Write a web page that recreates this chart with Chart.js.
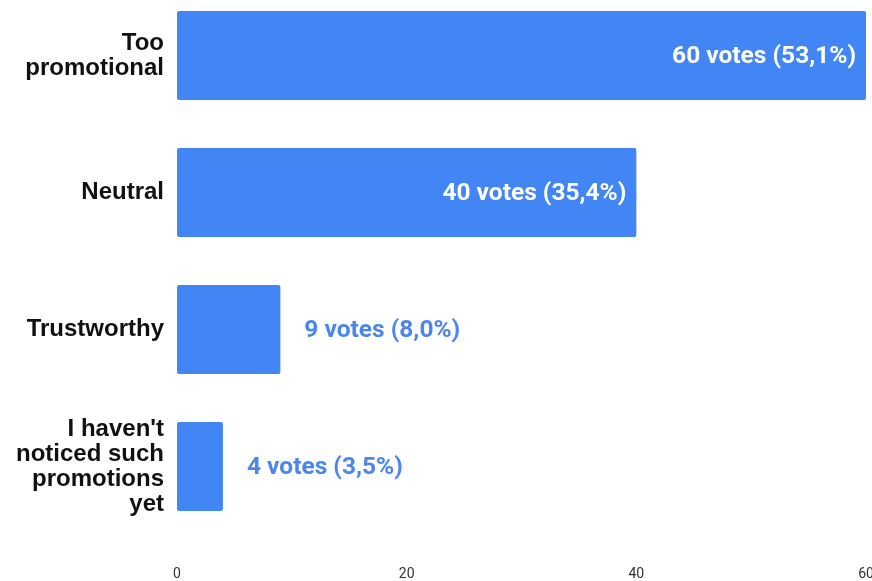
<!DOCTYPE html>
<html>
<head>
<meta charset="utf-8">
<script src="https://cdn.jsdelivr.net/npm/chart.js@4"></script>
<style>
  html, body { margin: 0; padding: 0; background: #fff; overflow: hidden; width: 872px; height: 581px; }
  #wrap { position: absolute; left: 0; top: -13px; width: 880px; height: 594px; }
</style>
</head>
<body>
<div id="wrap"><canvas id="chart"></canvas></div>
<script>
var categories = [
	['Too', 'promotional'],
	['Neutral'],
	['Trustworthy'],
	["I haven't", 'noticed such', 'promotions', 'yet']
];
var votes = [60, 40, 9, 4];
var xTicks = [0, 20, 40, 60];

var total = votes.reduce(function(a, b){ return a + b; }, 0);
var barBlue = '#4285F4';

// labels "60 votes (53,1%)" inside or beside each bar
var voteLabels = {
	id: 'voteLabels',
	afterDatasetsDraw: function(chart){
		var ctx = chart.ctx;
		var meta = chart.getDatasetMeta(0);
		ctx.save();
		ctx.font = 'bold 24.5px Roboto';
		ctx.textBaseline = 'middle';
		meta.data.forEach(function(bar, i){
			var v = votes[i];
			var pct = (v / total * 100).toFixed(1).replace('.', ',');
			var txt = v + ' votes (' + pct + '%)';
			var w = ctx.measureText(txt).width;
			if (bar.x - bar.base > w + 30) {
				ctx.fillStyle = '#ffffff';
				ctx.textAlign = 'right';
				ctx.fillText(txt, bar.x - 10, bar.y + 1);
			} else {
				ctx.fillStyle = '#4a86ee';
				ctx.textAlign = 'left';
				ctx.fillText(txt, bar.x + 24, bar.y + 1);
			}
		});
		ctx.restore();
	}
};

// no automatic label padding, the layout is fixed
function noPad(s){
	s.paddingTop = 0; s.paddingBottom = 0;
	s.paddingLeft = 0; s.paddingRight = 0;
}

new Chart(document.getElementById('chart'), {
	type: 'bar',
	data: {
		labels: categories,
		datasets: [{
			data: votes,
			backgroundColor: barBlue,
			borderRadius: 2,
			borderSkipped: false,
			barPercentage: 1,
			categoryPercentage: 0.65
		}]
	},
	options: {
		indexAxis: 'y',
		responsive: true,
		maintainAspectRatio: false,
		animation: false,
		layout: { padding: { top: 0, left: 0, bottom: 0, right: 14 } },
		plugins: { legend: { display: false }, tooltip: { enabled: false } },
		scales: {
			x: {
				min: 0, max: 60,
				afterBuildTicks: function(s){ s.ticks = xTicks.map(function(v){ return { value: v }; }); },
				afterFit: function(s){ s.height = 46; noPad(s); },
				grid: { display: false, drawTicks: false },
				border: { display: false },
				ticks: { padding: 31, color: '#333', font: { family: 'Roboto', size: 14 } }
			},
			y: {
				afterFit: function(s){ s.width = 177; noPad(s); },
				grid: { display: false, drawTicks: false },
				border: { display: false },
				ticks: {
					padding: 13,
					color: '#111',
					font: { family: 'Liberation Sans', size: 24, weight: 'bold', lineHeight: 1.04 }
				}
			}
		}
	},
	plugins: [voteLabels]
});
</script>
</body>
</html>
